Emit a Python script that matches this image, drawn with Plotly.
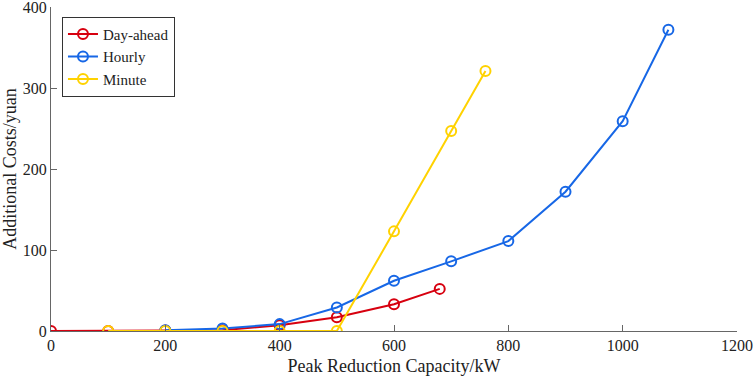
import plotly.graph_objects as go

day_x = [0, 100, 200, 300, 400, 500, 600, 680]
day_y = [0, 0, 0.5, 1, 7, 17, 33, 52]
hour_x = [200, 300, 400, 500, 600, 700, 800, 900, 1000, 1080]
hour_y = [1, 3, 8.5, 29, 62, 86, 111, 172, 259, 372]
min_x = [100, 200, 300, 400, 500, 600, 700, 760]
min_y = [0, 0, 0, 0, 0, 123, 247, 321]

series = [("Day-ahead", day_x, day_y, "#D7000F"),
          ("Hourly", hour_x, hour_y, "#1767E6"),
          ("Minute", min_x, min_y, "#FFD200")]

fig = go.Figure()
for name, xs, ys, c in series:
    fig.add_trace(go.Scatter(x=xs, y=ys, name=name, mode="lines+markers",
                             line=dict(color=c, width=2),
                             marker=dict(symbol="circle-open", size=10, color=c,
                                         line=dict(width=2, color=c))))

font = "Liberation Serif"
fig.update_layout(
    width=754, height=379,
    margin=dict(l=51, r=17, t=7, b=48),
    paper_bgcolor="white", plot_bgcolor="white",
    font=dict(family=font, size=16, color="#222"),
    legend=dict(x=0.016, y=0.97, xanchor="left", yanchor="top",
                bordercolor="#333", borderwidth=1, bgcolor="white",
                font=dict(size=15), tracegroupgap=0, itemwidth=30),
    xaxis=dict(range=[0, 1200], tickvals=[0, 200, 400, 600, 800, 1000, 1200],
               showline=True, linecolor="#666", linewidth=1, ticks="inside",
               ticklen=6, tickcolor="#666", showgrid=False, zeroline=False,
               automargin=False, ticklabeloverflow="allow",
               title=dict(text="Peak Reduction Capacity/kW", font=dict(size=18), standoff=6)),
    yaxis=dict(range=[0, 400], tickvals=[0, 100, 200, 300, 400],
               showline=True, linecolor="#666", linewidth=1, ticks="inside",
               ticklen=6, tickcolor="#666", showgrid=False, zeroline=False,
               automargin=False, ticklabeloverflow="allow",
               title=dict(text="Additional Costs/yuan", font=dict(size=18), standoff=4)),
)
fig.write_html("out.html", config={"displayModeBar": False})
with open("out.html", encoding="utf-8") as f:
    html = f.read()
html = html.replace("<head>", "<head><style>html,body{margin:0;padding:0;overflow:hidden;}</style>", 1)
with open("out.html", "w", encoding="utf-8") as f:
    f.write(html)
